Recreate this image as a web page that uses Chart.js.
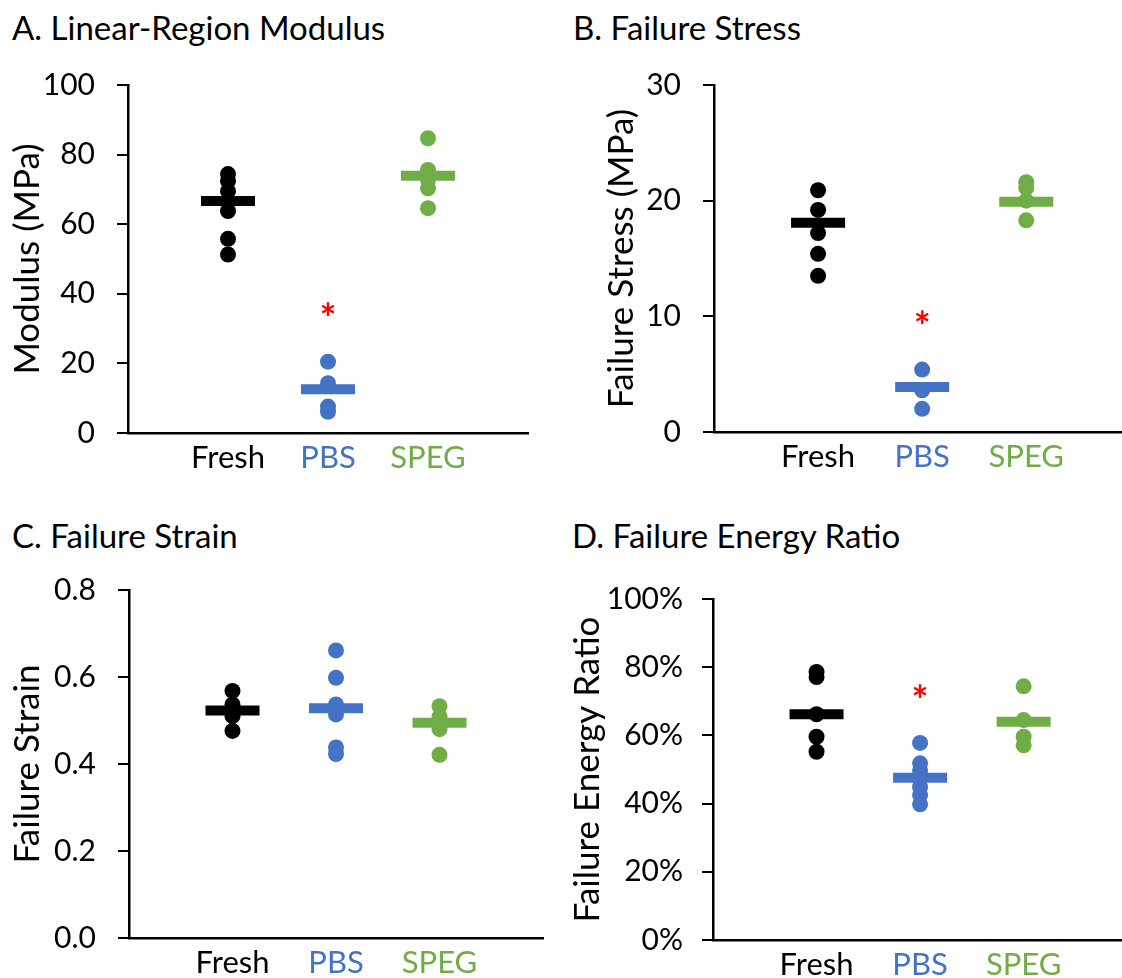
<!DOCTYPE html>
<html>
<head>
<meta charset="utf-8">
<script src="https://cdn.jsdelivr.net/npm/chart.js@4.4.0/dist/chart.umd.min.js"></script>
<style>
  body { margin: 0; background: #fff; }
  #wrap { position: relative; width: 1122px; height: 978px; overflow: hidden; font-family: Lato, 'Open Sans', sans-serif; }
  .panel { position: absolute; width: 561px; height: 489px; }
  .ttl { position: absolute; font-size: 33px; line-height: 33px; color: #000; white-space: nowrap; }
</style>
</head>
<body>
<div id="wrap">
  <div class="ttl" style="left:12px; top:11px;">A. Linear-Region Modulus</div>
  <div class="ttl" style="left:573px; top:11px;">B. Failure Stress</div>
  <div class="ttl" style="left:12px; top:519px;">C. Failure Strain</div>
  <div class="ttl" style="left:572px; top:519px;">D. Failure Energy Ratio</div>
  <div class="panel" style="left:0; top:0;"><canvas id="chartA"></canvas></div>
  <div class="panel" style="left:561px; top:0;"><canvas id="chartB"></canvas></div>
  <div class="panel" style="left:0; top:489px;"><canvas id="chartC"></canvas></div>
  <div class="panel" style="left:561px; top:489px;"><canvas id="chartD"></canvas></div>
</div>
<script>
const groups = ['Fresh', 'PBS', 'SPEG'];
const groupColors = ['#000000', '#4472C4', '#70AD47'];

// A. linear-region modulus (MPa)
const modulusFresh = [74.4, 72.4, 69.5, 63.8, 55.8, 51.3];
const modulusPBS = [20.5, 14.3, 7.6, 6.1];
const modulusSPEG = [84.7, 75.6, 72.8, 70.3, 64.6];
const modulusMean = [66.7, 12.6, 73.9];
const modulusStar = [null, 34.9, null];

// B. failure stress (MPa)
const stressFresh = [20.9, 19.2, 17.2, 15.4, 13.5];
const stressPBS = [5.4, 3.6, 2.0];
const stressSPEG = [21.6, 21.1, 20.0, 18.3];
const stressMean = [18.1, 3.9, 19.9];
const stressStar = [null, 9.8, null];

// C. failure strain
const strainFresh = [0.568, 0.537, 0.510, 0.476];
const strainPBS = [0.661, 0.598, 0.537, 0.514, 0.438, 0.423];
const strainSPEG = [0.533, 0.509, 0.480, 0.421];
const strainMean = [0.523, 0.528, 0.495];
const strainStar = [null, null, null];

// D. failure energy ratio (%)
const energyFresh = [78.6, 77.1, 66.2, 59.6, 55.2];
const energyPBS = [57.8, 51.8, 49.6, 44.9, 42.5, 39.8];
const energySPEG = [74.4, 64.5, 59.6, 57.1];
const energyMean = [66.2, 47.6, 64.0];
const energyStar = [null, 72.3, null];

const FAMILY = "Lato, 'Open Sans', sans-serif";
const TICK_FONT = { family: FAMILY, size: 30 };
const CAT_FONT = { family: FAMILY, size: 31 };
const AXIS_TITLE_FONT = { family: FAMILY, size: 35 };

// red asterisks above significant groups
const starPlugin = {
  id: 'stars',
  afterDatasetsDraw(chart, args, opts) {
    const { ctx, scales } = chart;
    ctx.save();
    ctx.fillStyle = '#FF0000';
    ctx.font = 'bold 40px ' + FAMILY;
    ctx.textAlign = 'center';
    ctx.textBaseline = 'middle';
    (opts.values || []).forEach((v, i) => {
      if (v == null) return;
      ctx.fillText('*', scales.x.getPixelForValue(i + 1), scales.y.getPixelForValue(v) + 9);
    });
    ctx.restore();
  }
};

function makePanel(id, p) {
  const pts = [p.fresh, p.pbs, p.speg];
  const datasets = [{
    label: 'mean',
    data: p.mean.map((v, i) => ({ x: i + 1, y: v })),
    pointStyle: 'line',
    pointRadius: 27,
    pointHoverRadius: 27,
    pointBorderWidth: 10,
    pointBorderColor: groupColors,
    order: 0
  }];
  pts.forEach((arr, i) => {
    datasets.push({
      label: groups[i],
      data: arr.map(v => ({ x: i + 1, y: v })),
      pointRadius: 8,
      pointBackgroundColor: groupColors[i],
      pointBorderWidth: 0,
      order: 1
    });
  });

  new Chart(document.getElementById(id), {
    type: 'scatter',
    data: { datasets },
    plugins: [starPlugin],
    options: {
      responsive: false,
      animation: false,
      // no auto padding: the big mean markers would otherwise shrink the plot
      layout: { autoPadding: false, padding: { top: p.top, right: p.right, left: 0, bottom: 0 } },
      plugins: {
        legend: { display: false },
        tooltip: { enabled: false },
        stars: { values: p.star }
      },
      scales: {
        x: {
          type: 'linear',
          min: 0,
          max: p.xMax,
          afterBuildTicks: s => { s.ticks = [0, 1, 2, 3, p.xMax].map(v => ({ value: v })); },
          afterFit: s => { s.height = 489 - p.bottom; },
          grid: { display: false },
          border: { display: true, color: '#000', width: 2.5 },
          ticks: {
            font: CAT_FONT,
            padding: -2,
            color: c => groupColors[c.index - 1] || '#000',
            callback: v => groups[v - 1] || ''
          }
        },
        y: {
          min: 0,
          max: p.yMax,
          afterFit: s => { s.width = p.left; },
          grid: { drawOnChartArea: false, drawTicks: true, tickLength: 11, color: '#000', lineWidth: 2 },
          border: { display: true, color: '#000', width: 2.5 },
          ticks: {
            stepSize: p.step,
            font: TICK_FONT,
            color: '#000',
            padding: p.tickPad,
            callback: p.fmt
          },
          title: {
            display: true,
            text: p.yTitle,
            font: AXIS_TITLE_FONT,
            color: '#000',
            padding: { top: p.titlePad, bottom: 0 }
          }
        }
      }
    }
  });
}

function sizeCanvas(id) {
  const c = document.getElementById(id);
  c.width = 561; c.height = 489;
  c.style.width = '561px'; c.style.height = '489px';
}
['chartA', 'chartB', 'chartC', 'chartD'].forEach(sizeCanvas);

makePanel('chartA', {
  fresh: modulusFresh, pbs: modulusPBS, speg: modulusSPEG, mean: modulusMean, star: modulusStar,
  yMax: 100, step: 20, fmt: v => v, yTitle: 'Modulus (MPa)',
  left: 128, top: 85, bottom: 433, right: 33, xMax: 4, tickPad: 22, titlePad: 7
});
makePanel('chartB', {
  fresh: stressFresh, pbs: stressPBS, speg: stressSPEG, mean: stressMean, star: stressStar,
  yMax: 30, step: 10, fmt: v => v, yTitle: 'Failure Stress (MPa)',
  left: 153, top: 85, bottom: 432, right: 0, xMax: 3.92, tickPad: 22, titlePad: 40
});
makePanel('chartC', {
  fresh: strainFresh, pbs: strainPBS, speg: strainSPEG, mean: strainMean, star: strainStar,
  yMax: 0.8, step: 0.2, fmt: v => v.toFixed(1), yTitle: 'Failure Strain',
  left: 129, top: 101, bottom: 451, right: 18, xMax: 4, tickPad: 22, titlePad: 7
});
makePanel('chartD', {
  fresh: energyFresh, pbs: energyPBS, speg: energySPEG, mean: energyMean, star: energyStar,
  yMax: 100, step: 20, fmt: v => v + '%', yTitle: 'Failure Energy Ratio',
  left: 152, top: 110, bottom: 451, right: 0, xMax: 3.95, tickPad: 19, titlePad: 6
});
</script>
</body>
</html>
